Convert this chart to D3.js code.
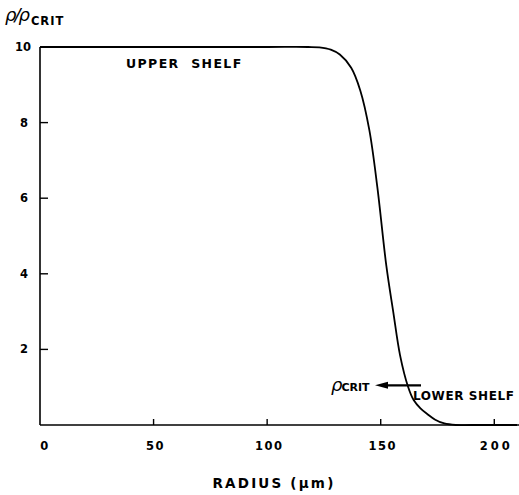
<!DOCTYPE html>
<html><head><meta charset="utf-8">
<script src="https://cdn.jsdelivr.net/npm/d3@7"></script>
<style>body{margin:0;background:#fff}svg{display:block}text{font-family:"DejaVu Sans",sans-serif;fill:#000}</style>
</head><body><svg id="c" width="519" height="495"></svg>
<script>
const radius = [0, 50, 100, 118, 123, 128, 132, 137, 141, 145, 148.5, 152.5, 155.5, 158.5, 162, 164.5, 167.5, 170.5, 174, 178, 183, 190, 210];
const ratio  = [10, 10, 10, 10, 9.99, 9.93, 9.8, 9.45, 8.85, 7.8, 6.3, 4.2, 3.0, 1.85, 1.02, 0.66, 0.44, 0.29, 0.14, 0.04, 0, 0, 0];
const xTicks = [0, 50, 100, 150, 200];
const yTicks = [2, 4, 6, 8, 10];
const pCrit = 1.05;

const svg = d3.select("#c");
const x = d3.scaleLinear().domain([0, 210]).range([40, 517]);
const y = d3.scaleLinear().domain([0, 10]).range([425, 47]);

// axes lines
svg.append("line").attr("x1", x(0)).attr("x2", 519).attr("y1", y(0)).attr("y2", y(0)).attr("stroke", "#000").attr("stroke-width", 1.6);
svg.append("line").attr("x1", x(0)).attr("x2", x(0)).attr("y1", y(0)).attr("y2", y(10)).attr("stroke", "#000").attr("stroke-width", 1.6);

// x ticks
svg.selectAll(".xt").data(xTicks.filter(d => d > 0)).join("line")
  .attr("x1", d => x(d)).attr("x2", d => x(d)).attr("y1", y(0)).attr("y2", y(0) - 6)
  .attr("stroke", "#000").attr("stroke-width", 1.4);
svg.selectAll(".xl").data(xTicks).join("text")
  .attr("x", d => x(d) + (d === 0 ? 5 : 2)).attr("y", 450).attr("text-anchor", "middle")
  .attr("font-size", 11.5).attr("font-weight", "bold").attr("letter-spacing", d => d === 200 ? 3 : 1.5).text(d => d);

// y ticks
svg.selectAll(".yt").data(yTicks.filter(d => d < 10)).join("line")
  .attr("x1", x(0)).attr("x2", x(0) + 8).attr("y1", d => y(d)).attr("y2", d => y(d))
  .attr("stroke", "#000").attr("stroke-width", 1.4);
svg.selectAll(".yl").data(yTicks).join("text")
  .attr("x", d => d === 10 ? 31 : 28).attr("y", d => y(d) + 4).attr("text-anchor", "end")
  .attr("font-size", 11.5).attr("font-weight", "bold").text(d => d);

// curve
const line = d3.line().x((d, i) => x(radius[i])).y(d => y(Math.min(10, d))).curve(d3.curveCatmullRom.alpha(0.5));
svg.append("path").attr("d", line(ratio)).attr("fill", "none").attr("stroke", "#000").attr("stroke-width", 1.8);

// p crit arrow
const ay = y(pCrit);
svg.append("line").attr("x1", 384).attr("x2", 421).attr("y1", ay).attr("y2", ay).attr("stroke", "#000").attr("stroke-width", 2.2);
svg.append("path").attr("d", `M375,${ay} L388,${ay - 3.5} L388,${ay + 3.5} Z`).attr("fill", "#000");

const pc = svg.append("text").attr("x", 331).attr("y", ay + 6);
pc.append("tspan").attr("font-size", 18).attr("font-style", "italic").text("ρ");
pc.append("tspan").attr("font-size", 11).attr("font-weight", "bold").attr("dx", -1).text("CRIT");

svg.append("text").attr("x", 413).attr("y", 400).attr("font-size", 12).attr("font-weight", "bold").attr("letter-spacing", 0.6).text("LOWER SHELF");
svg.append("text").attr("x", 126).attr("y", 68).attr("font-size", 12.5).attr("font-weight", "bold").attr("letter-spacing", 1.4).attr("xml:space", "preserve").text("UPPER  SHELF");

// axis titles
svg.append("text").attr("x", 274).attr("y", 488).attr("text-anchor", "middle").attr("font-size", 13.5).attr("font-weight", "bold").attr("letter-spacing", 2.2).text("RADIUS (μm)");
const yt = svg.append("text").attr("x", 5).attr("y", 21);
yt.append("tspan").attr("font-size", 18).attr("font-style", "italic").attr("letter-spacing", -2).text("ρ/ρ");
yt.append("tspan").attr("font-size", 11.5).attr("font-weight", "bold").attr("dx", 3).attr("dy", 4).attr("letter-spacing", 1).text("CRIT");
</script></body></html>
